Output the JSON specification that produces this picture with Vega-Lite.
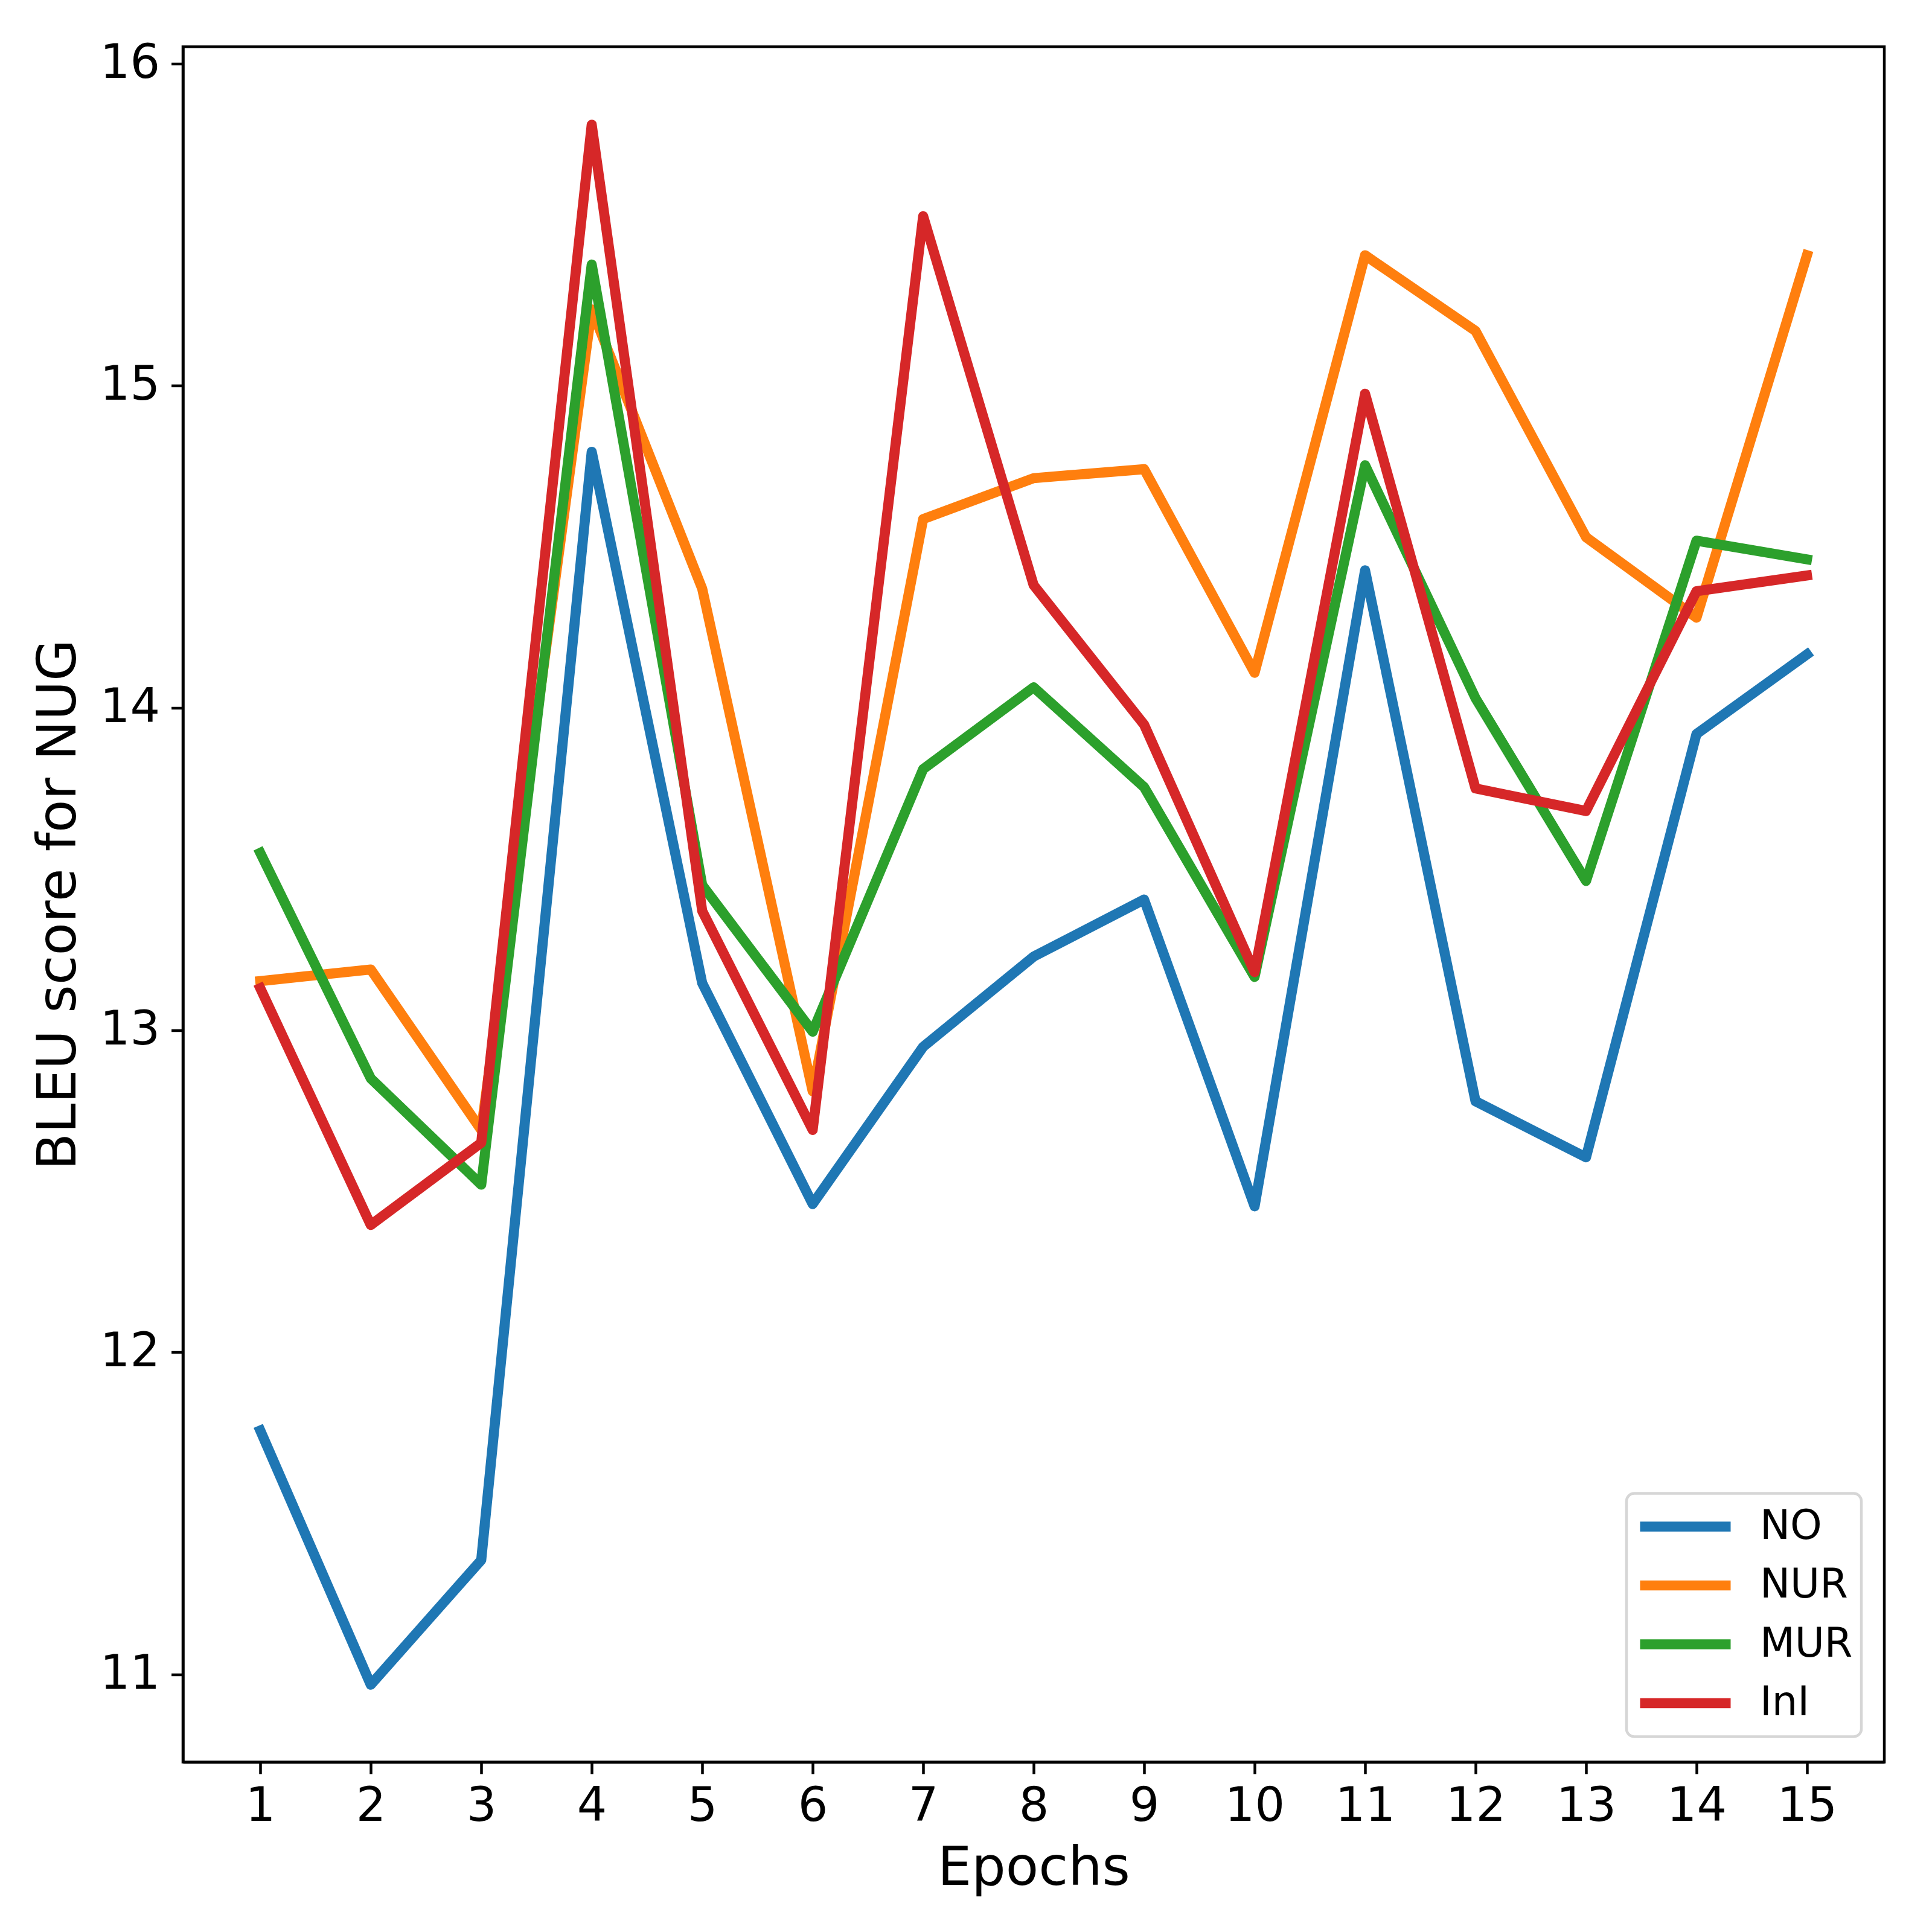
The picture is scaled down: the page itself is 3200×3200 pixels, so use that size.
{
  "$schema": "https://vega.github.io/schema/vega-lite/v6.json",
  "autosize": {"type": "none"},
  "width": 2818,
  "height": 2841,
  "padding": {"left": 303, "top": 77.5, "right": 79, "bottom": 281.5},
  "background": "white",
  "config": {
    "font": "DejaVu Sans",
    "view": {"stroke": "black", "strokeWidth": 4.5},
    "axis": {"grid": false}
  },
  "data": {
    "values": [
      {"epoch": 1, "model": "NO", "bleu": 11.757},
      {"epoch": 2, "model": "NO", "bleu": 10.968},
      {"epoch": 3, "model": "NO", "bleu": 11.355},
      {"epoch": 4, "model": "NO", "bleu": 14.795},
      {"epoch": 5, "model": "NO", "bleu": 13.146},
      {"epoch": 6, "model": "NO", "bleu": 12.46},
      {"epoch": 7, "model": "NO", "bleu": 12.948},
      {"epoch": 8, "model": "NO", "bleu": 13.228},
      {"epoch": 9, "model": "NO", "bleu": 13.405},
      {"epoch": 10, "model": "NO", "bleu": 12.453},
      {"epoch": 11, "model": "NO", "bleu": 14.427},
      {"epoch": 12, "model": "NO", "bleu": 12.779},
      {"epoch": 13, "model": "NO", "bleu": 12.605},
      {"epoch": 14, "model": "NO", "bleu": 13.919},
      {"epoch": 15, "model": "NO", "bleu": 14.166},
      {"epoch": 1, "model": "NUR", "bleu": 13.152},
      {"epoch": 2, "model": "NUR", "bleu": 13.188},
      {"epoch": 3, "model": "NUR", "bleu": 12.69},
      {"epoch": 4, "model": "NUR", "bleu": 15.237},
      {"epoch": 5, "model": "NUR", "bleu": 14.37},
      {"epoch": 6, "model": "NUR", "bleu": 12.81},
      {"epoch": 7, "model": "NUR", "bleu": 14.586},
      {"epoch": 8, "model": "NUR", "bleu": 14.713},
      {"epoch": 9, "model": "NUR", "bleu": 14.741},
      {"epoch": 10, "model": "NUR", "bleu": 14.109},
      {"epoch": 11, "model": "NUR", "bleu": 15.405},
      {"epoch": 12, "model": "NUR", "bleu": 15.17},
      {"epoch": 13, "model": "NUR", "bleu": 14.53},
      {"epoch": 14, "model": "NUR", "bleu": 14.28},
      {"epoch": 15, "model": "NUR", "bleu": 15.405},
      {"epoch": 1, "model": "MUR", "bleu": 13.55},
      {"epoch": 2, "model": "MUR", "bleu": 12.85},
      {"epoch": 3, "model": "MUR", "bleu": 12.52},
      {"epoch": 4, "model": "MUR", "bleu": 15.376},
      {"epoch": 5, "model": "MUR", "bleu": 13.45},
      {"epoch": 6, "model": "MUR", "bleu": 12.995},
      {"epoch": 7, "model": "MUR", "bleu": 13.81},
      {"epoch": 8, "model": "MUR", "bleu": 14.064},
      {"epoch": 9, "model": "MUR", "bleu": 13.754},
      {"epoch": 10, "model": "MUR", "bleu": 13.165},
      {"epoch": 11, "model": "MUR", "bleu": 14.753},
      {"epoch": 12, "model": "MUR", "bleu": 14.03},
      {"epoch": 13, "model": "MUR", "bleu": 13.463},
      {"epoch": 14, "model": "MUR", "bleu": 14.519},
      {"epoch": 15, "model": "MUR", "bleu": 14.461},
      {"epoch": 1, "model": "InI", "bleu": 13.13},
      {"epoch": 2, "model": "InI", "bleu": 12.395},
      {"epoch": 3, "model": "InI", "bleu": 12.65},
      {"epoch": 4, "model": "InI", "bleu": 15.81},
      {"epoch": 5, "model": "InI", "bleu": 13.37},
      {"epoch": 6, "model": "InI", "bleu": 12.69},
      {"epoch": 7, "model": "InI", "bleu": 15.526},
      {"epoch": 8, "model": "InI", "bleu": 14.381},
      {"epoch": 9, "model": "InI", "bleu": 13.948},
      {"epoch": 10, "model": "InI", "bleu": 13.18},
      {"epoch": 11, "model": "InI", "bleu": 14.975},
      {"epoch": 12, "model": "InI", "bleu": 13.75},
      {"epoch": 13, "model": "InI", "bleu": 13.68},
      {"epoch": 14, "model": "InI", "bleu": 14.362},
      {"epoch": 15, "model": "InI", "bleu": 14.411}
    ]
  },
  "mark": {"type": "line", "strokeWidth": 16.7, "strokeCap": "square", "strokeJoin": "round"},
  "encoding": {
    "x": {
      "field": "epoch",
      "type": "quantitative",
      "scale": {"domain": [0.3, 15.7], "nice": false, "zero": false},
      "axis": {
        "values": [1,2,3,4,5,6,7,8,9,10,11,12,13,14,15],
        "format": "d",
        "title": "Epochs",
        "titleFontSize": 89,
        "titleFontWeight": "normal",
        "titleColor": "black",
        "titlePadding": 20,
        "labelFontSize": 78,
        "labelColor": "black",
        "labelPadding": 16,
        "labelFlush": false,
        "labelOverlap": false,
        "tickSize": 19.4,
        "tickWidth": 4.5,
        "tickColor": "black",
        "domainWidth": 4.5,
        "domainColor": "black"
      }
    },
    "y": {
      "field": "bleu",
      "type": "quantitative",
      "scale": {"domain": [10.728, 16.052], "nice": false, "zero": false},
      "axis": {
        "values": [11, 12, 13, 14, 15, 16],
        "format": "d",
        "title": "BLEU score for NUG",
        "titleFontSize": 89,
        "titleFontWeight": "normal",
        "titleColor": "black",
        "titlePadding": 22,
        "labelFontSize": 78,
        "labelColor": "black",
        "labelPadding": 19,
        "labelFlush": false,
        "labelOverlap": false,
        "tickSize": 19.4,
        "tickWidth": 4.5,
        "tickColor": "black",
        "domainWidth": 4.5,
        "domainColor": "black"
      }
    },
    "color": {
      "field": "model",
      "type": "nominal",
      "scale": {
        "domain": ["NO", "NUR", "MUR", "InI"],
        "range": ["#1f77b4", "#ff7f0e", "#2ca02c", "#d62728"]
      },
      "legend": {
        "title": null,
        "orient": "none",
        "legendX": 2391,
        "legendY": 2396,
        "symbolType": "stroke",
        "symbolSize": 22500,
        "symbolStrokeWidth": 16.7,
        "clipHeight": 82,
        "labelFontSize": 67,
        "labelColor": "black",
        "labelOffset": 40,
        "rowPadding": 15.5,
        "padding": 14,
        "cornerRadius": 13,
        "strokeColor": "#d6d6d6",
        "fillColor": "white",
        "encode": {"legend": {"update": {"strokeWidth": {"value": 4.5}}}}
      }
    }
  }
}
